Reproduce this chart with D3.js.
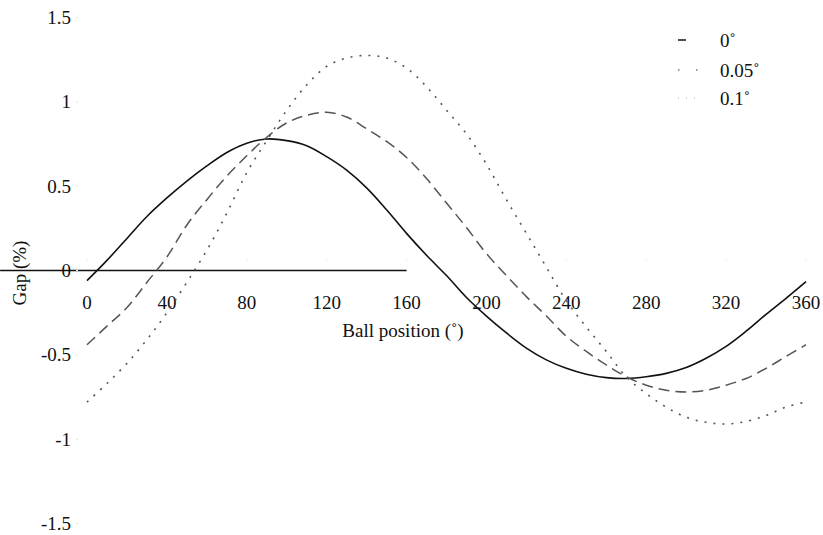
<!DOCTYPE html>
<html>
<head>
<meta charset="utf-8">
<script src="https://cdn.jsdelivr.net/npm/d3@7"></script>
</head>
<body style="margin:0">
<svg id="canvas" width="823" height="535"></svg>
<script>
// ball position in degrees
let ballPosition = [0, 10, 20, 30, 40, 50, 60, 70, 80, 90, 100, 110, 120, 130, 140, 150, 160, 170, 180,
  190, 200, 210, 220, 230, 240, 250, 260, 270, 280, 290, 300, 310, 320, 330, 340, 350, 360];

// gap (%) for each misalignment angle
let gap0 = [-0.06, 0.06, 0.19, 0.32, 0.43, 0.53, 0.62, 0.70, 0.755, 0.78, 0.77, 0.74, 0.675, 0.595, 0.49, 0.36, 0.22, 0.09, -0.03,
  -0.16, -0.27, -0.37, -0.46, -0.53, -0.58, -0.615, -0.635, -0.64, -0.63, -0.61, -0.575, -0.52, -0.45, -0.36, -0.26, -0.165, -0.066];
let gap005 = [-0.44, -0.33, -0.22, -0.07, 0.08, 0.27, 0.42, 0.56, 0.68, 0.79, 0.875, 0.92, 0.938, 0.91, 0.84, 0.765, 0.67, 0.545, 0.40,
  0.255, 0.10, -0.03, -0.155, -0.27, -0.39, -0.48, -0.56, -0.63, -0.68, -0.71, -0.72, -0.71, -0.68, -0.64, -0.58, -0.51, -0.44];
let gap01 = [-0.78, -0.67, -0.55, -0.41, -0.25, -0.07, 0.12, 0.34, 0.58, 0.77, 0.95, 1.10, 1.21, 1.26, 1.275, 1.26, 1.20, 1.09, 0.95,
  0.81, 0.63, 0.42, 0.22, 0.02, -0.18, -0.335, -0.48, -0.63, -0.73, -0.81, -0.87, -0.90, -0.91, -0.895, -0.86, -0.81, -0.78];

let seriesNames = ['0˚', '0.05˚', '0.1˚'];
let xTicks = [0, 40, 80, 120, 160, 200, 240, 280, 320, 360];
let yTicks = [1.5, 1, 0.5, 0, -0.5, -1, -1.5];

let serifFont = 'Liberation Serif';
let fontSize = 19;

let canvas = d3.select('#canvas');

let xScale = d3.scaleLinear().domain([0, 360]).range([87, 806]);
let yScale = d3.scaleLinear().domain([-1.5, 1.5]).range([523.5, 17.5]);

let styles = [
  { stroke: '#111', width: 1.6, dash: null },
  { stroke: '#555', width: 1.5, dash: '11,6' },
  { stroke: '#555', width: 1.6, dash: '2,7' }
];

// small helper so every label gets the same font
let label = (sel) => sel
  .attr('font-family', serifFont)
  .style('font-family', serifFont)
  .attr('font-size', fontSize)
  .attr('fill', '#111')
  .attr('dy', '0.35em');

// zero line, it only runs to 160 in the original
canvas.append('line')
  .attr('x1', xScale(-43.5)).attr('x2', xScale(160))
  .attr('y1', yScale(0)).attr('y2', yScale(0))
  .attr('stroke', '#111').attr('stroke-width', 1.3);

// faint tick marks
canvas.selectAll('.xtick')
  .data(xTicks)
  .enter()
  .append('line')
  .attr('class', 'xtick')
  .attr('x1', d => xScale(d)).attr('x2', d => xScale(d))
  .attr('y1', yScale(0) - 12).attr('y2', yScale(0) - 10)
  .attr('stroke', '#e4e4e4');

canvas.selectAll('.ytick')
  .data(yTicks)
  .enter()
  .append('line')
  .attr('class', 'ytick')
  .attr('x1', 76).attr('x2', 78)
  .attr('y1', d => yScale(d)).attr('y2', d => yScale(d))
  .attr('stroke', '#e4e4e4');

// tick labels
canvas.selectAll('.xlabel')
  .data(xTicks)
  .enter()
  .append('text')
  .attr('class', 'xlabel')
  .attr('x', d => xScale(d))
  .attr('y', 302)
  .attr('text-anchor', 'middle')
  .call(label)
  .text(d => d);

canvas.selectAll('.ylabel')
  .data(yTicks)
  .enter()
  .append('text')
  .attr('class', 'ylabel')
  .attr('x', 71)
  .attr('y', d => yScale(d))
  .attr('text-anchor', 'end')
  .call(label)
  .text(d => d);

// axis titles
canvas.append('text')
  .attr('x', 403).attr('y', 330)
  .attr('text-anchor', 'middle')
  .call(label)
  .text('Ball position (˚)');

canvas.append('text')
  .attr('transform', 'translate(19,273) rotate(-90)')
  .attr('text-anchor', 'middle')
  .call(label)
  .text('Gap (%)');

// curves
let allGaps = [gap0, gap005, gap01];
let line = d3.line()
  .x((d, i) => xScale(ballPosition[i]))
  .y(d => yScale(d))
  .curve(d3.curveCatmullRom);

canvas.selectAll('.curve')
  .data(allGaps)
  .enter()
  .append('path')
  .attr('class', 'curve')
  .attr('d', d => line(d))
  .attr('fill', 'none')
  .attr('stroke', (d, i) => styles[i].stroke)
  .attr('stroke-width', (d, i) => styles[i].width)
  .attr('stroke-dasharray', (d, i) => styles[i].dash);

// legend
let legendY = [40, 70, 98];
let legendSample = [
  { x2: 686, dash: null, stroke: '#111' },
  { x2: 700, dash: '1.5,16.5', stroke: '#777' },
  { x2: 700, dash: '1,7', stroke: '#ccc' }
];

canvas.selectAll('.legline')
  .data(seriesNames)
  .enter()
  .append('line')
  .attr('class', 'legline')
  .attr('x1', 678)
  .attr('x2', (d, i) => legendSample[i].x2)
  .attr('y1', (d, i) => legendY[i])
  .attr('y2', (d, i) => legendY[i])
  .attr('stroke', (d, i) => legendSample[i].stroke)
  .attr('stroke-width', 1.5)
  .attr('stroke-dasharray', (d, i) => legendSample[i].dash);

canvas.selectAll('.legtext')
  .data(seriesNames)
  .enter()
  .append('text')
  .attr('class', 'legtext')
  .attr('x', 720)
  .attr('y', (d, i) => legendY[i])
  .call(label)
  .text(d => d);
</script>
</body>
</html>
